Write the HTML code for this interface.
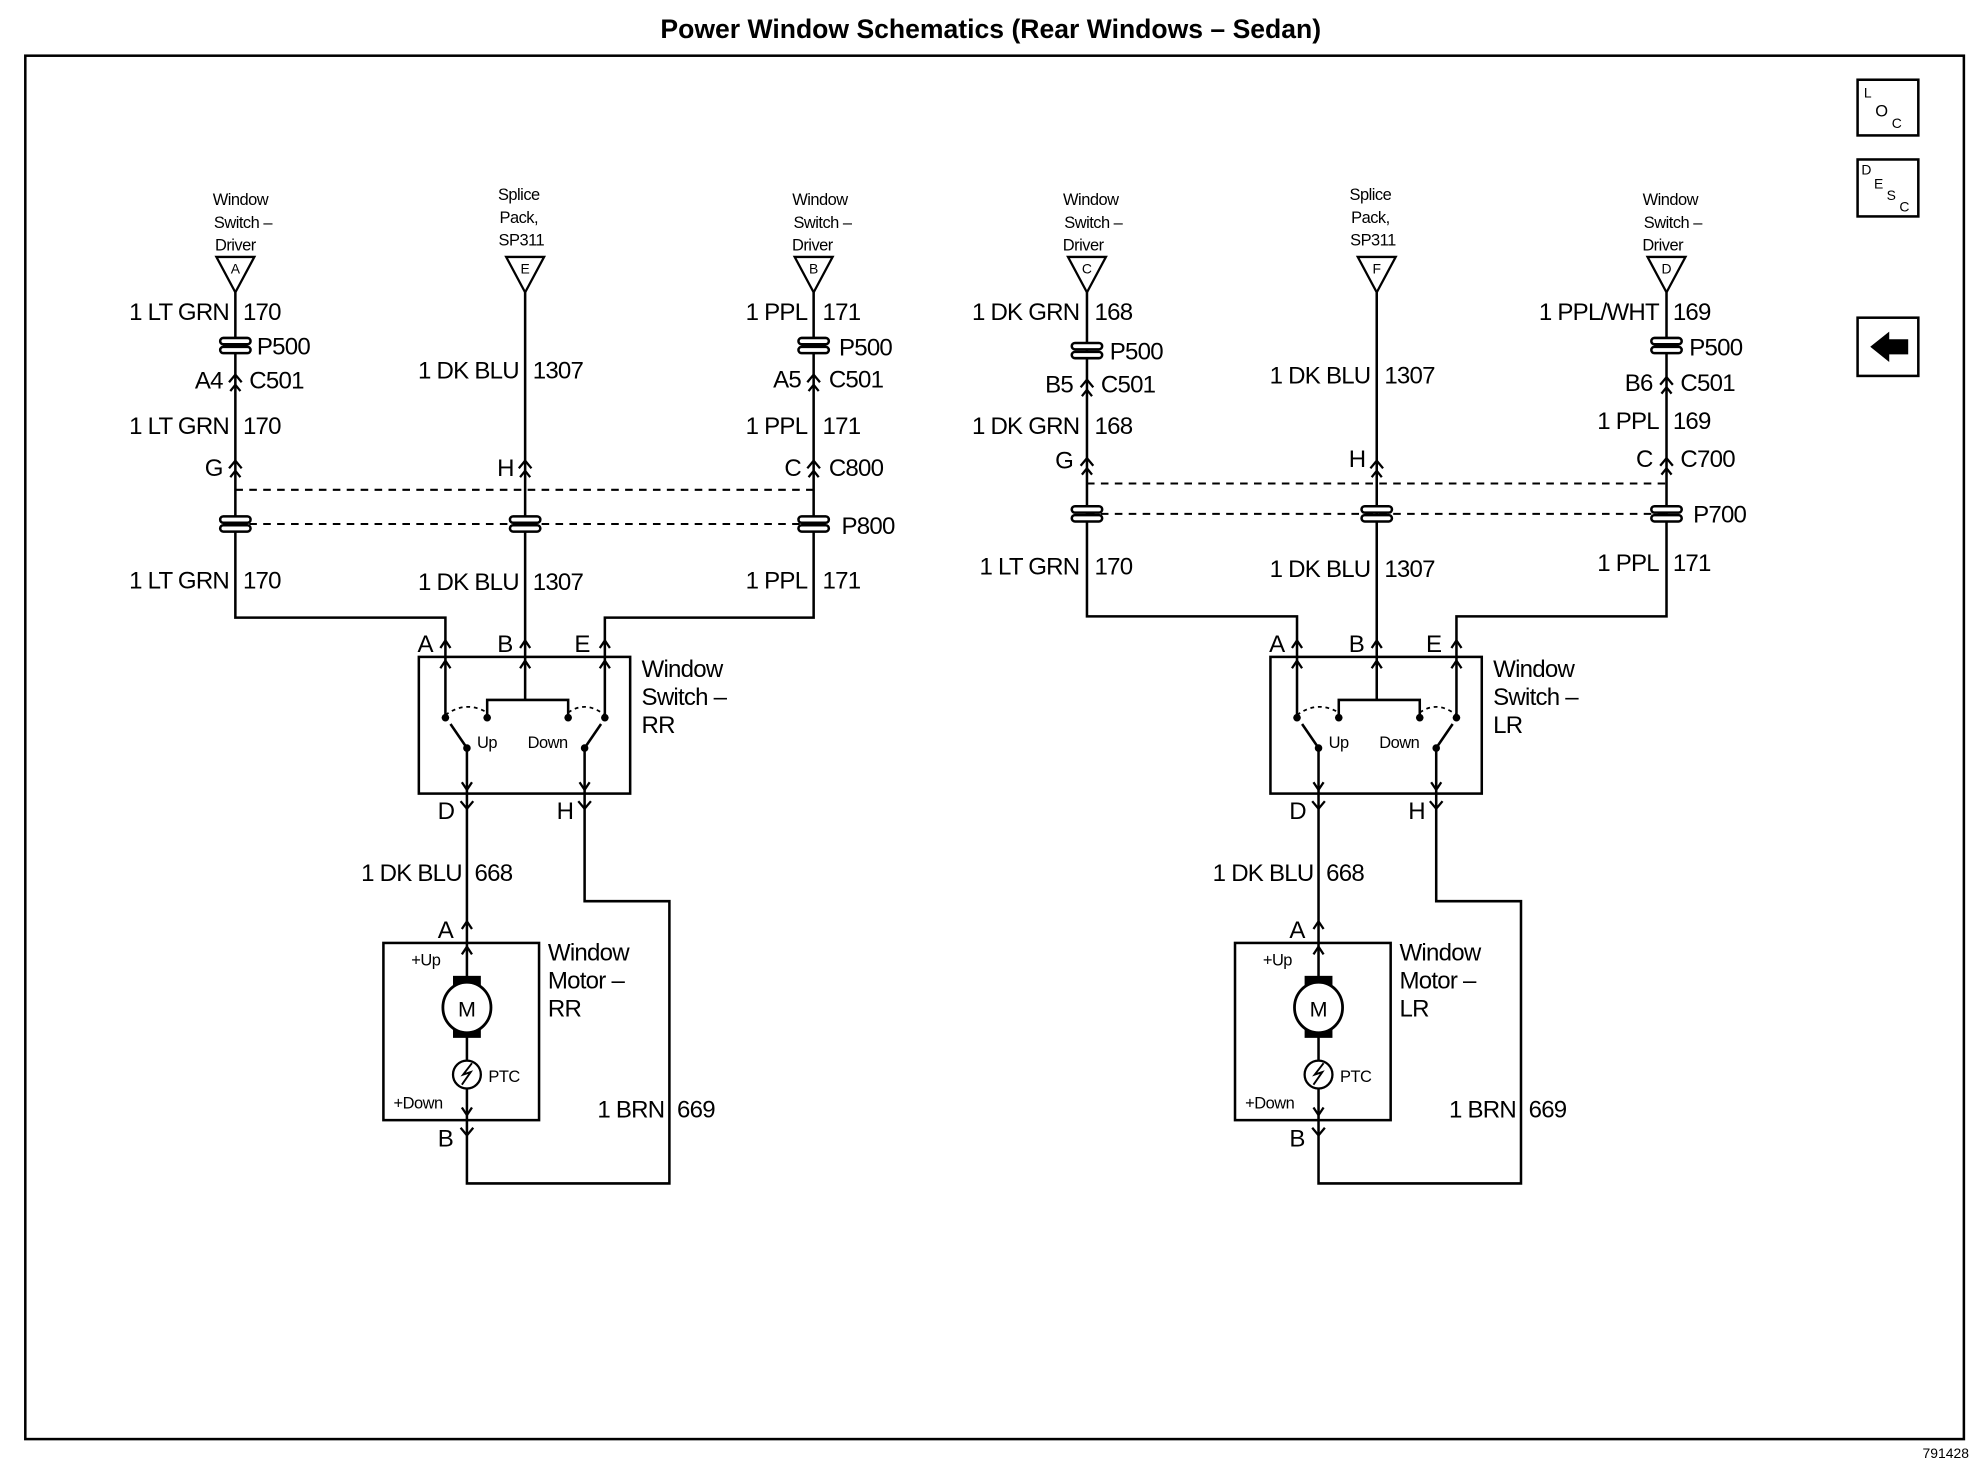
<!DOCTYPE html>
<html><head><meta charset="utf-8"><style>
html,body{margin:0;padding:0;background:#fff;}
svg{display:block;}
text{font-family:"Liberation Sans",Arial,sans-serif;fill:#000;}
.t{font-size:19px;letter-spacing:-0.6px;}
.s{font-size:13px;letter-spacing:-0.4px;}
.w{stroke:#000;stroke-width:2;fill:none;}
.d{stroke:#000;stroke-width:1.6;fill:none;stroke-dasharray:6 5;}
</style></head><body>
<svg width="1974" height="1472" viewBox="0 0 1560 1163" preserveAspectRatio="none" xmlns="http://www.w3.org/2000/svg">
<defs>
<g id="p5"><rect x="-12" y="-6" width="24" height="5" rx="2.5" fill="#fff" stroke="#000" stroke-width="2"/><rect x="-12" y="1" width="24" height="5" rx="2.5" fill="#fff" stroke="#000" stroke-width="2"/></g>
<g id="fch"><path d="M-5 4 L0 -2 L5 4 M-4 11 L0 6 L4 11" stroke="#000" stroke-width="1.8" fill="none"/></g>
<g id="ych"><path d="M-5 -5 L0 1 L5 -5" stroke="#000" stroke-width="1.8" fill="none"/></g>
<g id="au"><path d="M-4 6 L0 0 L4 6" stroke="#000" stroke-width="1.8" fill="none"/></g>
<g id="ad"><path d="M-4 -6 L0 0 L4 -6" stroke="#000" stroke-width="1.8" fill="none"/></g>
</defs>
<text x="783" y="30" text-anchor="middle" style="font-size:21px;font-weight:bold">Power Window Schematics (Rear Windows – Sedan)</text>
<rect x="20" y="44" width="1532" height="1093" class="w"/>
<text x="1556" y="1152" text-anchor="end" style="font-size:11px">791428</text>

<rect x="1468" y="63" width="48" height="44" class="w"/>
<text x="1473" y="77" style="font-size:11px">L</text><text x="1482" y="92" style="font-size:13px">O</text><text x="1495" y="101" style="font-size:11px">C</text>
<rect x="1468" y="126" width="48" height="45" class="w"/>
<text x="1471" y="138" style="font-size:11px">D</text><text x="1481" y="149" style="font-size:11px">E</text><text x="1491" y="158" style="font-size:11px">S</text><text x="1501" y="167" style="font-size:11px">C</text>
<rect x="1468" y="251" width="48" height="46" class="w"/>
<polygon points="1478,274 1493,262 1493,268 1508,268 1508,280 1493,280 1493,286" fill="#000"/>

<g class="s" text-anchor="middle">
<text x="190" y="162">Window</text><text x="192" y="180">Switch –</text><text x="186" y="198">Driver</text>
<text x="410" y="158">Splice</text><text x="410" y="176">Pack,</text><text x="412" y="194">SP311</text>
<text x="648" y="162">Window</text><text x="650" y="180">Switch –</text><text x="642" y="198">Driver</text>
<text x="862" y="162">Window</text><text x="864" y="180">Switch –</text><text x="856" y="198">Driver</text>
<text x="1083" y="158">Splice</text><text x="1083" y="176">Pack,</text><text x="1085" y="194">SP311</text>
<text x="1320" y="162">Window</text><text x="1322" y="180">Switch –</text><text x="1314" y="198">Driver</text>
</g>
<g fill="#fff" stroke="#000" stroke-width="1.8">
<polygon points="171,203 201,203 186,231"/><polygon points="400,203 430,203 415,231"/><polygon points="628,203 658,203 643,231"/>
<polygon points="844,203 874,203 859,231"/><polygon points="1073,203 1103,203 1088,231"/><polygon points="1302,203 1332,203 1317,231"/>
</g>
<g style="font-size:11px" text-anchor="middle">
<text x="186" y="216">A</text><text x="415" y="216">E</text><text x="643" y="216">B</text>
<text x="859" y="216">C</text><text x="1088" y="216">F</text><text x="1317" y="216">D</text>
</g>
<path class="w" d="M186 231 V488 H352 V510 M415 231 V510 M643 231 V488 H478 V510"/>
<path class="w" d="M859 231 V487 H1025 V510 M1088 231 V510 M1317 231 V487 H1151 V510"/>
<path class="d" d="M186 387 H643 M186 414 H643"/>
<path class="d" d="M859 382 H1317 M859 406 H1317"/>
<use href="#p5" x="186" y="273"/><use href="#p5" x="643" y="273"/>
<use href="#fch" x="186" y="298"/><use href="#fch" x="643" y="298"/>
<use href="#fch" x="186" y="366"/><use href="#fch" x="415" y="366"/><use href="#fch" x="643" y="366"/>
<use href="#p5" x="186" y="414"/><use href="#p5" x="415" y="414"/><use href="#p5" x="643" y="414"/>
<use href="#p5" x="859" y="277"/><use href="#p5" x="1317" y="273"/>
<use href="#fch" x="859" y="302"/><use href="#fch" x="1317" y="300"/>
<use href="#fch" x="859" y="364"/><use href="#fch" x="1088" y="366"/><use href="#fch" x="1317" y="364"/>
<use href="#p5" x="859" y="406"/><use href="#p5" x="1088" y="406"/><use href="#p5" x="1317" y="406"/>

<g class="t">
<g text-anchor="end">
<text x="181" y="253">1 LT GRN</text><text x="176" y="307">A4</text><text x="181" y="343">1 LT GRN</text><text x="176" y="376">G</text><text x="181" y="465">1 LT GRN</text>
<text x="410" y="299">1 DK BLU</text><text x="406" y="376">H</text><text x="410" y="466">1 DK BLU</text>
<text x="638" y="253">1 PPL</text><text x="633" y="306">A5</text><text x="638" y="343">1 PPL</text><text x="633" y="376">C</text><text x="638" y="465">1 PPL</text>
<text x="853" y="253">1 DK GRN</text><text x="848" y="310">B5</text><text x="853" y="343">1 DK GRN</text><text x="848" y="370">G</text><text x="853" y="454">1 LT GRN</text>
<text x="1083" y="303">1 DK BLU</text><text x="1079" y="369">H</text><text x="1083" y="456">1 DK BLU</text>
<text x="1311" y="253">1 PPL/WHT</text><text x="1306" y="309">B6</text><text x="1311" y="339">1 PPL</text><text x="1306" y="369">C</text><text x="1311" y="451">1 PPL</text>
</g>
<text x="192" y="253">170</text><text x="203" y="280">P500</text><text x="197" y="307">C501</text><text x="192" y="343">170</text><text x="192" y="465">170</text>
<text x="421" y="299">1307</text><text x="421" y="466">1307</text>
<text x="650" y="253">171</text><text x="663" y="281">P500</text><text x="655" y="306">C501</text><text x="650" y="343">171</text><text x="655" y="376">C800</text><text x="665" y="422">P800</text><text x="650" y="465">171</text>
<text x="865" y="253">168</text><text x="877" y="284">P500</text><text x="870" y="310">C501</text><text x="865" y="343">168</text><text x="865" y="454">170</text>
<text x="1094" y="303">1307</text><text x="1094" y="456">1307</text>
<text x="1322" y="253">169</text><text x="1335" y="281">P500</text><text x="1328" y="309">C501</text><text x="1322" y="339">169</text><text x="1328" y="369">C700</text><text x="1338" y="413">P700</text><text x="1322" y="451">171</text>
</g>

<g id="lower">
<use href="#au" x="352" y="506"/><use href="#au" x="415" y="506"/><use href="#au" x="478" y="506"/>
<rect x="331" y="519" width="167" height="108" class="w"/>
<use href="#au" x="352" y="522"/><use href="#au" x="415" y="522"/><use href="#au" x="478" y="522"/>
<path class="w" d="M352 510 V567 M478 510 V567 M415 510 V553 M415 553 H385 V567 M415 553 H449 V567"/>
<path d="M352 565 Q368 553 385 563 M449 563 Q463 553 478 565" stroke="#000" stroke-width="1.4" fill="none" stroke-dasharray="3 3"/>
<circle cx="352" cy="567" r="3"/><circle cx="385" cy="567" r="3"/><circle cx="449" cy="567" r="3"/><circle cx="478" cy="567" r="3"/>
<circle cx="369" cy="591" r="3"/><circle cx="462" cy="591" r="3"/>
<path class="w" d="M369 591 L356 572 M462 591 L475 572 M369 591 V893 M462 591 V712 H529 V935 H369 V893"/>
<use href="#ad" x="369" y="624"/><use href="#ad" x="462" y="624"/>
<use href="#ych" x="369" y="638"/><use href="#ych" x="462" y="638"/>
<text class="s" x="377" y="591">Up</text><text class="s" x="417" y="591">Down</text>
<rect x="303" y="745" width="123" height="140" class="w"/>
<use href="#au" x="369" y="728"/><use href="#au" x="369" y="748"/>
<rect x="358" y="771" width="22" height="11"/><rect x="358" y="809" width="22" height="11"/>
<ellipse cx="369" cy="796" rx="19" ry="20" fill="#fff" stroke="#000" stroke-width="2.2"/>
<text x="369" y="803" text-anchor="middle" style="font-size:17px">M</text>
<circle cx="369" cy="849" r="11" fill="#fff" stroke="#000" stroke-width="1.8"/>
<path d="M365 857 L372 847 L366 849 L373 840" stroke="#000" stroke-width="1.5" fill="none"/>
<use href="#ad" x="369" y="881"/><use href="#ych" x="369" y="896"/>
<text class="s" x="325" y="763">+Up</text><text class="s" x="386" y="855">PTC</text><text class="s" x="311" y="876">+Down</text>
<g class="t" text-anchor="end">
<text x="342" y="515">A</text><text x="405" y="515">B</text><text x="466" y="515">E</text>
<text x="359" y="647">D</text><text x="453" y="647">H</text>
<text x="358" y="741">A</text><text x="358" y="906">B</text>
<text x="365" y="696">1 DK BLU</text><text x="525" y="883">1 BRN</text>
</g>
<g class="t"><text x="375" y="696">668</text><text x="535" y="883">669</text></g>
</g>
<g class="t">
<text x="507" y="535">Window</text><text x="507" y="557">Switch –</text><text x="507" y="579">RR</text>
<text x="433" y="759">Window</text><text x="433" y="781">Motor –</text><text x="433" y="803">RR</text>
</g>
<use href="#lower" x="673" y="0"/>
<g class="t">
<text x="1180" y="535">Window</text><text x="1180" y="557">Switch –</text><text x="1180" y="579">LR</text>
<text x="1106" y="759">Window</text><text x="1106" y="781">Motor –</text><text x="1106" y="803">LR</text>
</g>
</svg>
</body></html>
